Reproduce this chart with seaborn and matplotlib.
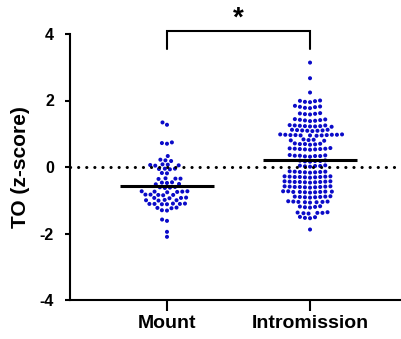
import numpy as np
import pandas as pd
import matplotlib
matplotlib.use("Agg")
import matplotlib.pyplot as plt
import seaborn as sns

# ---------------- data ----------------
categories = ["Mount", "Intromission"]

mount_values = [
    1.34, 1.27,
    0.74, 0.72, 0.70,
    0.33,
    0.22, 0.20, 0.18,
    0.08, 0.06, 0.05, 0.07, 0.04,
    -0.05, -0.06, -0.07, -0.05,
    -0.18, -0.19,
    -0.34, -0.35, -0.36, -0.35,
    -0.46, -0.47, -0.48,
    -0.51, -0.52,
    -0.60, -0.62, -0.63, -0.61,
    -0.73, -0.74, -0.75, -0.74, -0.73, -0.76,
    -0.83, -0.84, -0.85, -0.84, -0.83,
    -0.92, -0.93, -0.94, -0.93,
    -0.99, -1.00, -1.01, -1.00,
    -1.10, -1.11, -1.12, -1.11, -1.10, -1.12, -1.11,
    -1.22, -1.23, -1.24,
    -1.30, -1.31,
    -1.58, -1.62,
    -1.95,
    -2.10,
]

intromission_values = [
    3.14, 2.67, 2.24,
    2.00, 1.98, 1.96, 1.95, 1.99,
    1.84, 1.82, 1.80, 1.78, 1.81, 1.77,
    1.62, 1.60, 1.58, 1.61, 1.59,
    1.44, 1.42, 1.40, 1.38, 1.41, 1.39, 1.43,
    1.26, 1.25, 1.23, 1.22, 1.24, 1.21, 1.23, 1.25, 1.22,
    1.12, 1.10, 1.09, 1.11, 1.08, 1.10, 1.12, 1.09,
    0.98, 0.97, 0.96, 0.95, 0.97, 0.96, 0.94, 0.98, 0.95, 0.96, 0.97, 0.95,
    0.83, 0.81, 0.80, 0.82, 0.79,
    0.71, 0.69, 0.68, 0.70, 0.67, 0.69,
    0.57, 0.55, 0.54, 0.53, 0.56, 0.52, 0.55, 0.54, 0.53,
    0.36, 0.34, 0.33, 0.32, 0.35, 0.31, 0.34, 0.33,
    0.20, 0.19, 0.18, 0.17, 0.18, 0.16,
    0.05, 0.04, 0.03, 0.02, 0.03, 0.01,
    -0.13, -0.14, -0.15, -0.16, -0.14, -0.15, -0.17, -0.16,
    -0.28, -0.29, -0.30, -0.31, -0.32, -0.29, -0.30, -0.31, -0.28, -0.30,
    -0.43, -0.44, -0.45, -0.46, -0.47, -0.44, -0.45, -0.46, -0.43, -0.45,
    -0.58, -0.59, -0.60, -0.61, -0.62, -0.59, -0.60, -0.61, -0.58, -0.60,
    -0.73, -0.74, -0.75, -0.76, -0.77, -0.74, -0.75, -0.76, -0.73, -0.75,
    -0.88, -0.89, -0.90, -0.91, -0.92, -0.89, -0.90, -0.91,
    -1.03, -1.04, -1.05, -1.06, -1.07, -1.04, -1.05, -1.06,
    -1.18, -1.19, -1.20, -1.21, -1.22,
    -1.36, -1.37, -1.38, -1.39, -1.40, -1.38,
    -1.50, -1.51, -1.53, -1.54,
    -1.88,
]

y_ticks = [-4, -2, 0, 2, 4]
y_label = "TO (z-score)"
significance = "*"

df = pd.DataFrame({
    "group": ["Mount"] * len(mount_values) + ["Intromission"] * len(intromission_values),
    "value": mount_values + intromission_values,
})

# ---------------- style ----------------
sns.set_style("ticks")
plt.rcParams["font.family"] = ["Liberation Sans", "DejaVu Sans"]
plt.rcParams["font.weight"] = "bold"
for key in ["text.color", "axes.labelcolor", "xtick.color", "ytick.color", "axes.edgecolor"]:
    plt.rcParams[key] = "black"

W, H = 402, 339
fig = plt.figure(figsize=(W / 100, H / 100), dpi=100)
ax = fig.add_axes([70 / W, 1 - 300 / H, 330 / W, 266 / H])

dot_color = "#0b0bc8"
sns.swarmplot(data=df, x="group", y="value", order=categories, ax=ax,
              color=dot_color, size=2.9, linewidth=0.6, zorder=2)
for coll in ax.collections:
    coll.set_edgecolor("none")

sns.pointplot(data=df, x="group", y="value", order=categories, ax=ax,
              estimator="mean", errorbar=None, color="black",
              marker="_", markersize=67, markeredgewidth=2.2,
              linestyle="none", zorder=4)

ax.axhline(0, color="black", linewidth=2.2, linestyle=(0, (0.05, 2.6)),
           dash_capstyle="round", zorder=5)

ax.set_xlim(-0.678, 1.629)
ax.set_ylim(-4, 4)
ax.set_yticks(y_ticks)
ax.set_yticklabels([str(t) for t in y_ticks])
ax.set_xlabel("")
ax.set_ylabel(y_label, fontsize=15, fontweight="bold")
ax.yaxis.set_label_coords(-0.121, 0.5)

sns.despine(ax=ax)
for s in ["left", "bottom"]:
    ax.spines[s].set_linewidth(1.5)
    ax.spines[s].set_color("black")
ax.tick_params(axis="y", length=3.6, width=1.5, pad=8, labelsize=11.5, colors="black")
ax.tick_params(axis="x", length=8, width=1.5, pad=3, labelsize=14, colors="black")
for lab in ax.get_xticklabels() + ax.get_yticklabels():
    lab.set_fontweight("bold")

# significance bracket
x0, x1 = 0, 1
ytop, ybot = 4.08, 3.55
ax.plot([x0, x0, x1, x1], [ybot, ytop, ytop, ybot], color="black",
        linewidth=1.5, clip_on=False, solid_joinstyle="miter")
ax.text((x0 + x1) / 2, 4.45, significance, ha="center", va="center",
        fontsize=20, fontweight="bold", clip_on=False)

fig.savefig("out.png", dpi=100)
